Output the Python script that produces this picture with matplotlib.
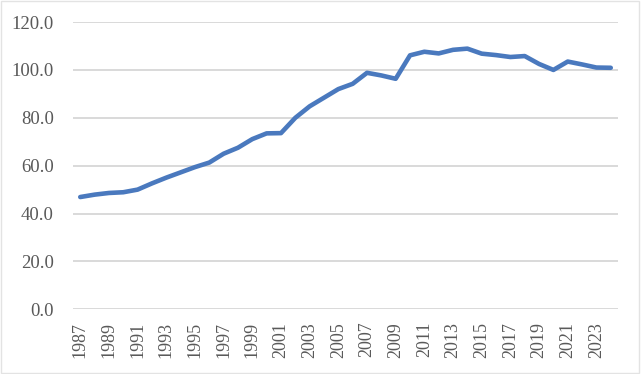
import matplotlib.pyplot as plt
from matplotlib.patches import Rectangle

years = list(range(1987, 2025))
values = [46.9, 47.9, 48.6, 48.9, 50.0, 52.6, 55.0, 57.2, 59.4, 61.3,
          65.0, 67.5, 71.1, 73.5, 73.6, 80.0, 84.8, 88.4, 92.0, 94.2,
          98.8, 97.7, 96.3, 106.1, 107.6, 106.9, 108.4, 108.9, 106.8, 106.2,
          105.4, 105.8, 102.5, 100.0, 103.5, 102.3, 101.0, 100.9]
yticks = [0, 20, 40, 60, 80, 100, 120]

plt.rcParams['font.family'] = ['Liberation Serif', 'DejaVu Serif']

fig = plt.figure(figsize=(6.41, 3.74), dpi=100)
ax = fig.add_axes([0.114, 0.173, 0.850, 0.768])

# light frame around the whole chart
fig.patches.append(Rectangle((0.002, 0.004), 0.995, 0.992, transform=fig.transFigure,
                             fill=False, edgecolor='#e3e3e3', lw=1))

x = list(range(len(years)))
ax.plot(x, values, color='#4a79be', lw=3.3, solid_capstyle='round', solid_joinstyle='round', zorder=3)

ax.set_xlim(-0.5, len(years) - 0.5)
ax.set_ylim(0, 120)
ax.set_yticks(yticks)
ax.set_yticklabels([f"{v:.1f}" for v in yticks])
ax.set_xticks(x[::2])
ax.set_xticklabels([str(y) for y in years[::2]], rotation=90)

ax.grid(axis='y', color='#d9d9d9', lw=1.4)
ax.set_axisbelow(True)
for s in ax.spines.values():
    s.set_visible(False)
ax.tick_params(length=0, labelcolor='#595959', labelsize=13.5)
ax.tick_params(axis='x', labelsize=13, pad=9)
ax.tick_params(axis='y', pad=14)

fig.savefig('out.png', dpi=100)
